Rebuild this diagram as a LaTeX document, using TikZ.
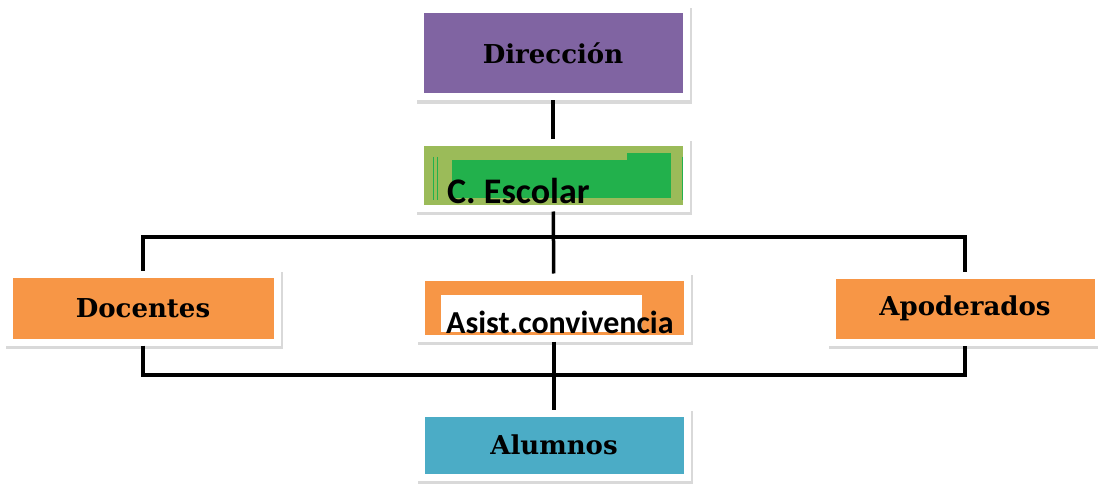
\documentclass[tikz,border=0pt]{standalone}
\usepackage{fontspec}
\usetikzlibrary{shadows}
\newfontfamily\cardfont{DejaVu Serif}
\newfontfamily\calfont{Carlito}
\definecolor{dirfill}{HTML}{8064A2}
\definecolor{escfill}{HTML}{9BBB59}
\definecolor{escgreen}{HTML}{22B14C}
\definecolor{orgfill}{HTML}{F79646}
\definecolor{alufill}{HTML}{4BACC6}
\tikzset{
	card/.style={rectangle, draw=white, line width=7pt, inner sep=0pt,
		minimum width=266pt,
		general shadow={draw=black!15, line width=9pt, shadow xshift=1pt, shadow yshift=-2.5pt},
		font=\cardfont\bfseries\fontsize{26}{28}\selectfont},
	link/.style={line width=3.5pt, black},
}
\begin{document}
\begin{tikzpicture}[x=1pt,y=-1pt]
			\useasboundingbox (0,0) rectangle (1098,484);
			
			% Cartes
			\node[card, fill=dirfill, minimum height=87pt] (dir) at (553,53.5) {Direcci\'on};
			\node[card, fill=escfill, minimum height=65pt] (cesc) at (553,175.5) {};
			\node[card, fill=orgfill, minimum width=268pt, minimum height=68pt] (doc) at (143,308) {Docentes};
			\node[card, fill=orgfill, minimum height=61pt] (asist) at (554,307.5) {};
			\node[card, fill=orgfill, minimum height=67pt] (apod) at (965,308.5) {Apoderados};
			\node[card, fill=alufill, minimum height=64pt] (alum) at (554,445) {Alumnos};
			
			% C. Escolar (retouche)
			\fill[escgreen] (452,160) rectangle (627,198);
			\fill[escgreen] (627,153) rectangle (671,198);
			\draw[escgreen, line width=1pt] (433,157) -- (433,200);
			\draw[escgreen, line width=1pt] (437,157) -- (437,200);
			\draw[escgreen, line width=1pt] (682,157) -- (682,200);
			\node[anchor=base west, inner sep=0pt, font=\calfont\bfseries\fontsize{36}{38}\selectfont] (esclabel) at (447,203) {C. Escolar};
			
			% Asist. convivencia (retouche)
			\fill[white] (441,295) rectangle (642,332);
			\node[anchor=base west, inner sep=0pt, font=\calfont\bfseries\fontsize{32}{34}\selectfont] (asistlabel) at (446,333) {Asist.convivencia};
			
			% Liaisons
			\coordinate (topbus) at (553,237);
			\coordinate (botbus) at (553,375);
			\draw[link] (dir) -- (cesc);
			\draw[link] (cesc) -- (asist);
			\draw[link] (doc.north) |- (topbus) -| (apod.north);
			\draw[link] (doc.south) |- (botbus) -| (apod.south);
			\draw[link] (asist) -- (alum);
		\end{tikzpicture}
\end{document}
